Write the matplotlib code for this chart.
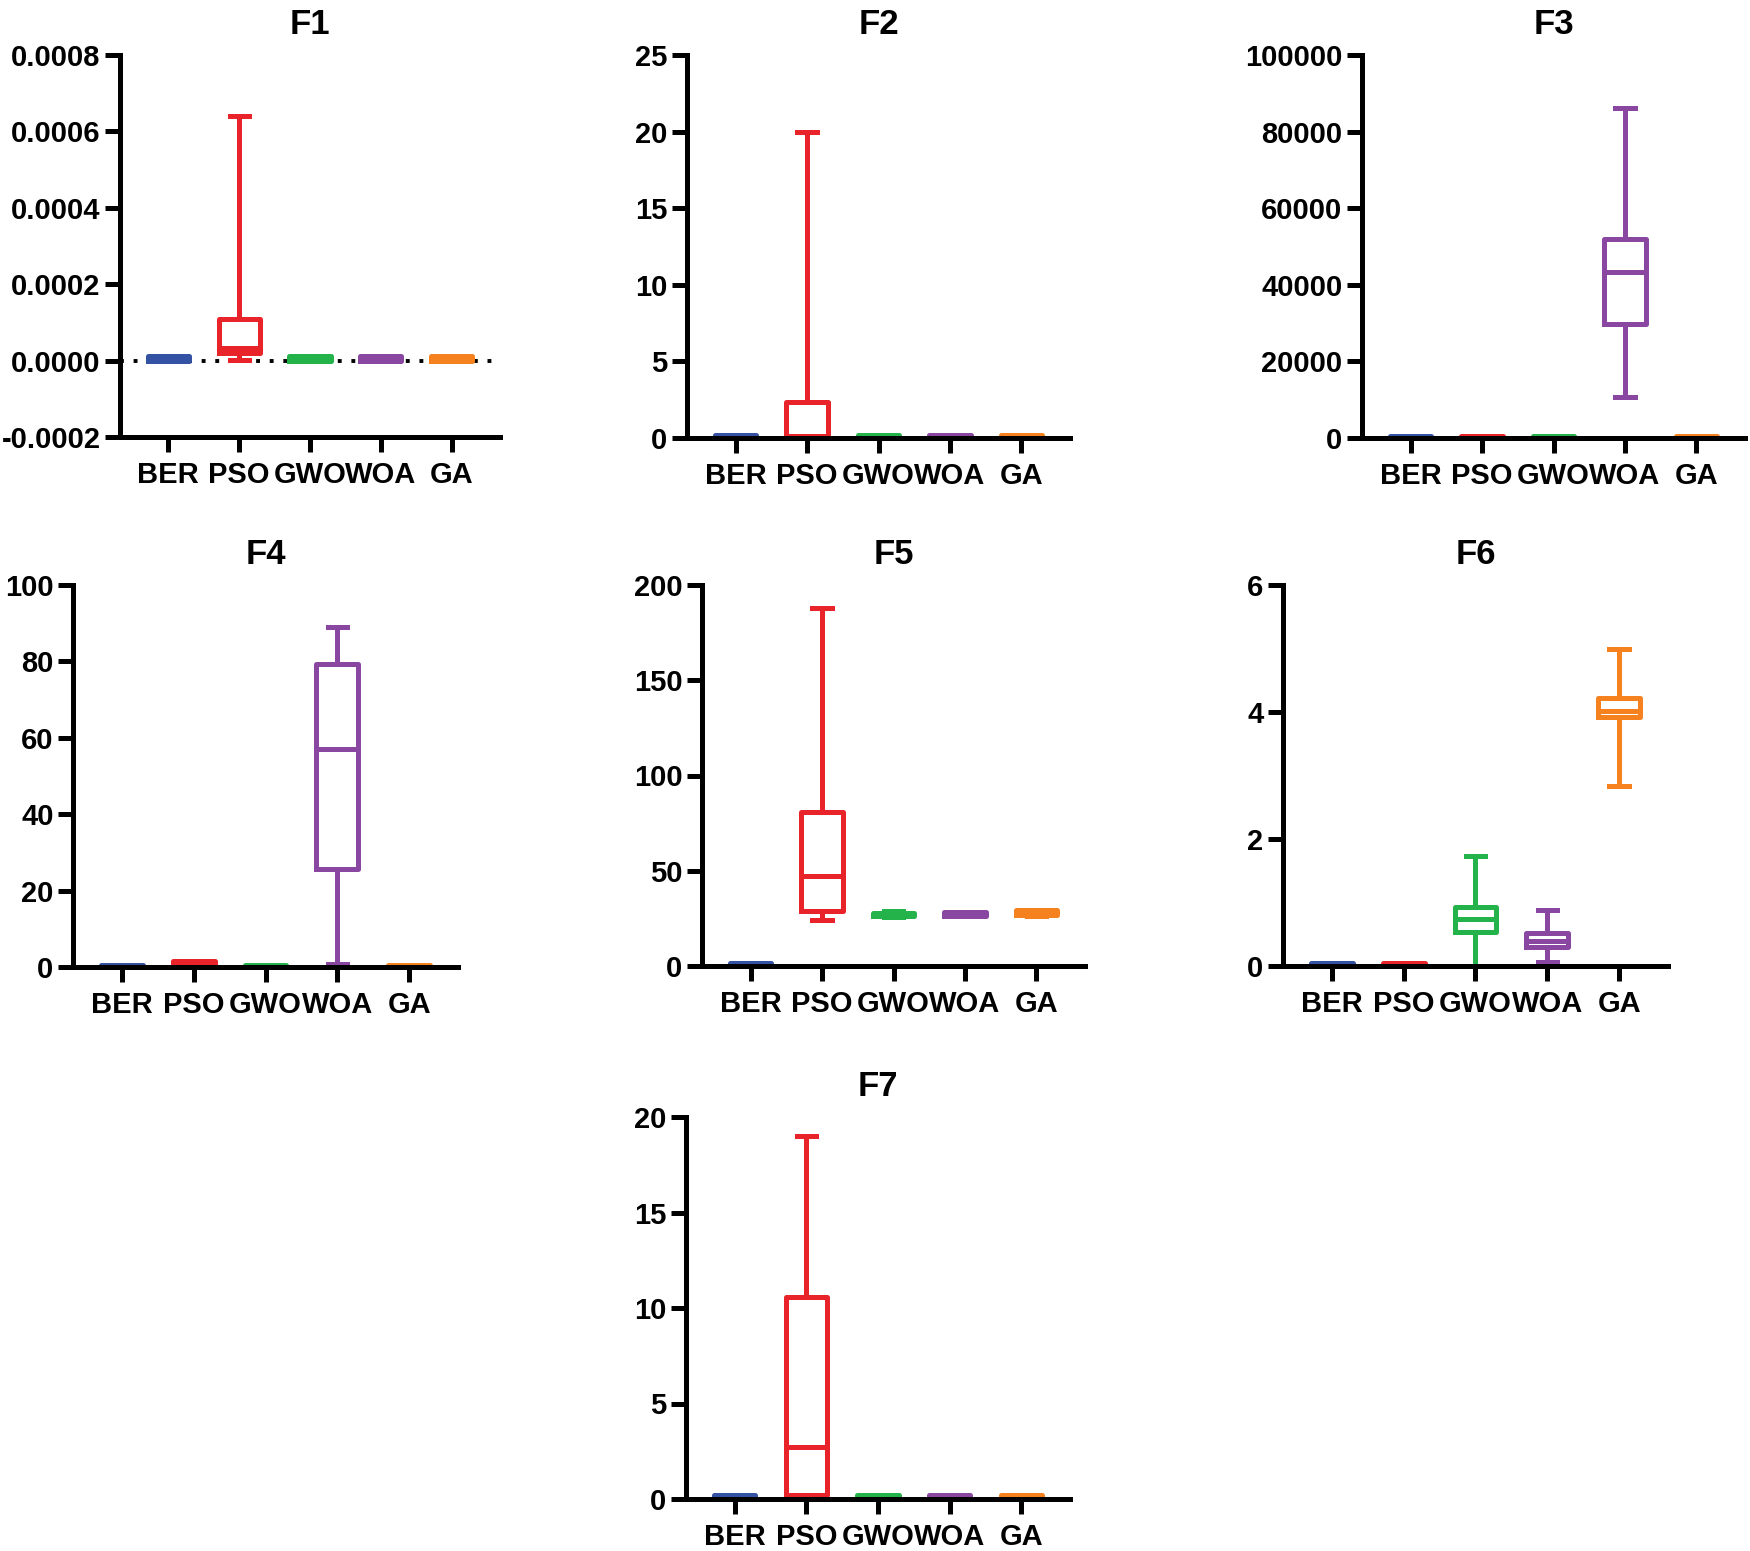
import matplotlib
matplotlib.use('Agg')
import matplotlib.pyplot as plt

plt.rcParams['font.family'] = ['Liberation Sans', 'DejaVu Sans']
plt.rcParams['font.weight'] = 'bold'

methods = ['BER', 'PSO', 'GWO', 'WOA', 'GA']
colors = ['#3452A3', '#E8232A', '#24B24B', '#8A47A2', '#F5821F']

# one row per method: [min, q1, median, q3, max]
F1 = [[0, 0, 0, 0.000012, 0.000012],
      [0.000002, 0.00002, 0.000032, 0.000108, 0.00064],
      [0, 0, 0, 0.000012, 0.000012],
      [0, 0, 0, 0.000012, 0.000012],
      [0, 0, 0, 0.000012, 0.000012]]
F2 = [[0, 0, 0, 0.2, 0.2],
      [0, 0.12, 0.12, 2.35, 20],
      [0, 0, 0, 0.2, 0.2],
      [0, 0, 0, 0.2, 0.2],
      [0, 0, 0, 0.2, 0.2]]
F3 = [[0, 0, 0, 600, 600],
      [0, 0, 0, 600, 600],
      [0, 0, 0, 600, 600],
      [10600, 29800, 43400, 52000, 86100],
      [0, 0, 0, 600, 600]]
F4 = [[0, 0, 0, 0.5, 0.5],
      [0.3, 0.3, 0.3, 1.5, 1.5],
      [0, 0, 0, 0.5, 0.5],
      [0.7, 25.6, 57.0, 79.3, 89.1],
      [0, 0, 0, 0.5, 0.5]]
F5 = [[0, 0, 0, 1.5, 1.5],
      [24.1, 28.9, 47.2, 80.7, 188],
      [25.5, 26, 26, 28, 28.8],
      [26, 26.2, 26.5, 28.6, 28.6],
      [26.5, 26.8, 27, 29.6, 29.6]]
F6 = [[0, 0, 0, 0.04, 0.04],
      [0, 0, 0, 0.04, 0.04],
      [0.0, 0.54, 0.735, 0.93, 1.74],
      [0.07, 0.30, 0.40, 0.52, 0.88],
      [2.84, 3.92, 4.02, 4.22, 5.0]]
F7 = [[0, 0, 0, 0.2, 0.2],
      [0, 0.2, 2.74, 10.6, 19],
      [0, 0, 0, 0.2, 0.2],
      [0, 0, 0, 0.2, 0.2],
      [0, 0, 0, 0.2, 0.2]]

F1_ticks = [-0.0002, 0, 0.0002, 0.0004, 0.0006, 0.0008]
F1_labels = ['-0.0002', '0.0000', '0.0002', '0.0004', '0.0006', '0.0008']
F2_ticks = [0, 5, 10, 15, 20, 25]
F3_ticks = [0, 20000, 40000, 60000, 80000, 100000]
F4_ticks = [0, 20, 40, 60, 80, 100]
F5_ticks = [0, 50, 100, 150, 200]
F6_ticks = [0, 2, 4, 6]
F7_ticks = [0, 5, 10, 15, 20]

W, H = 1750, 1551
fig = plt.figure(figsize=(W / 100, H / 100), dpi=100)

# pixel boxes: left, top, right, bottom
panels = [
    ('F1', F1, F1_ticks, F1_labels, (120, 55, 500, 437)),
    ('F2', F2, F2_ticks, None, (687, 55, 1070, 438)),
    ('F3', F3, F3_ticks, None, (1362, 55, 1745, 438)),
    ('F4', F4, F4_ticks, None, (73, 585, 458, 967)),
    ('F5', F5, F5_ticks, None, (702, 585, 1085, 966)),
    ('F6', F6, F6_ticks, None, (1283, 585, 1668, 966)),
    ('F7', F7, F7_ticks, None, (686, 1117, 1070, 1499)),
]

lw = 3.6
for name, data, ticks, labels, (l, t, r, b) in panels:
    ax = fig.add_axes([l / W, 1 - b / H, (r - l) / W, (b - t) / H])
    if name == 'F1':
        ax.axhline(0, color='k', lw=2.8, ls=(0, (1, 2.5)), zorder=1)
    for i, row in enumerate(data):
        st = {'whislo': row[0], 'q1': row[1], 'med': row[2],
              'q3': row[3], 'whishi': row[4]}
        c = colors[i]
        ax.bxp([st], positions=[i], widths=0.58, capwidths=0.27,
               showfliers=False, manage_ticks=False,
               boxprops=dict(color=c, lw=lw),
               whiskerprops=dict(color=c, lw=lw),
               capprops=dict(color=c, lw=lw),
               medianprops=dict(color=c, lw=lw))
    ax.set_xlim(-0.68, 4.68)
    ax.set_ylim(ticks[0], ticks[-1])
    ax.set_yticks(ticks)
    if labels is not None:
        ax.set_yticklabels(labels)
    else:
        ax.set_yticklabels([str(v) for v in ticks])
    ax.set_xticks(range(len(methods)))
    ax.set_xticklabels(methods)
    for s in ['top', 'right']:
        ax.spines[s].set_visible(False)
    for s in ['left', 'bottom']:
        ax.spines[s].set_linewidth(3.6)
    ax.tick_params(axis='both', width=3.6, length=11, labelsize=21)
    ax.tick_params(axis='x', pad=6)
    ax.tick_params(axis='y', pad=3)
    ax.set_title(name, fontsize=25, fontweight='bold', pad=15)

fig.savefig('out.png', dpi=100)
